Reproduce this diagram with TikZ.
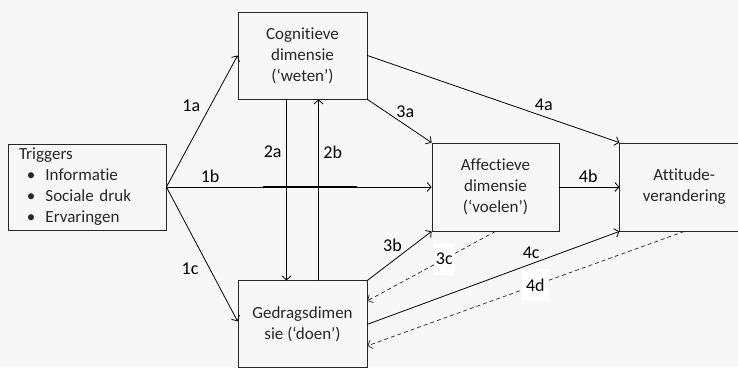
\documentclass[tikz,border=0pt]{standalone}
\usepackage{fontspec}
\setmainfont[Ligatures=NoCommon]{Carlito}
\usetikzlibrary{arrows.meta,positioning}
\definecolor{bgcol}{HTML}{F7F7F7}
\definecolor{inkcol}{HTML}{262626}

\begin{document}
\begin{tikzpicture}[
        x=1pt, y=-1pt,
        >={Straight Barb[length=4pt,width=9pt]},
        dim/.style={draw=inkcol, line width=0.8pt, text=inkcol, minimum width=129pt, minimum height=87pt, inner sep=0pt, align=center, font=\fontsize{17}{21}\selectfont},
        lbl/.style={inner sep=1pt, font=\fontsize{18}{21}\selectfont},
        onlbl/.style={lbl, fill=white, inner xsep=2pt, inner ysep=10pt},
        back/.style={->, dash pattern=on 4pt off 3pt, line width=0.7pt, draw=inkcol},
        every path/.style={line width=0.8pt}
        ]

        \useasboundingbox[fill=bgcol] (0,0) rectangle (738,367);

        \node[draw=inkcol, text=inkcol, text width=136pt, inner xsep=11pt, minimum height=86pt, align=left, font=\fontsize{17}{21}\selectfont]
        (Triggers) at (87,187)
        {Triggers\\
        \hspace*{8pt}\textbullet\hspace{10pt}Informatie\\
        \hspace*{8pt}\textbullet\hspace{10pt}Sociale druk\\
        \hspace*{8pt}\textbullet\hspace{10pt}Ervaringen};

        \node[dim] (Cognitief) at (302.5,55.5) {Cognitieve\\dimensie\\(‘weten’)};

        \node[dim, below=181pt of Cognitief] (Gedrag) {Gedragsdimen\\sie (‘doen’)};

        \node[dim, minimum width=127pt, minimum height=88pt] (Affectief) at (495.5,187) {Affectieve\\dimensie\\(‘voelen’)};

        \node[dim, minimum height=88pt, right=60pt of Affectief] (Attitude) {Attitude-\\verandering};

        \coordinate (crossL) at (263,187);
        \coordinate (crossR) at (357,187);

        % Edges
        \draw[->] (Triggers.east) to node[lbl, pos=0.62, left=9pt] {1a} (Cognitief.west);
        \draw[->] (Triggers.east) to node[lbl, pos=0.165, above=3pt] {1b} (Affectief.west);
        \draw[->] (Triggers.east) to node[lbl, pos=0.61, left=10pt] {1c} ([yshift=3pt]Gedrag.west);

        \draw[line width=2pt] (crossL) -- (crossR);

        \draw[->] ([xshift=-16pt]Cognitief.south) to node[lbl, pos=0.29, left=3.5pt] {2a} ([xshift=-16pt]Gedrag.north);
        \draw[->] ([xshift=16pt]Gedrag.north) to node[lbl, pos=0.71, right=3.5pt] {2b} ([xshift=16pt]Cognitief.south);

        \draw[->] (Cognitief.south east) to node[lbl, pos=0.59, above=6pt] {3a} (Affectief.north west);
        \draw[->] (Gedrag.north east) to node[lbl, pos=0.39, above=8pt] {3b} (Affectief.south west);
        \draw[back] (Affectief.south) to node[onlbl, pos=0.4] {3c} ([yshift=23.5pt]Gedrag.east);

        \draw[->] (Cognitief.east) to node[lbl, pos=0.7, above=4pt] {4a} (Attitude.north west);
        \draw[->] (Affectief.east) to node[lbl, pos=0.48, above=3pt] {4b} (Attitude.west);
        \draw[->] (Gedrag.east) to node[lbl, pos=0.65, above=4pt] {4c} (Attitude.south west);
        \draw[back] (Attitude.south) to node[onlbl, inner xsep=4.5pt, pos=0.47] {4d} ([yshift=-21.5pt]Gedrag.east);

      \end{tikzpicture}
\end{document}
